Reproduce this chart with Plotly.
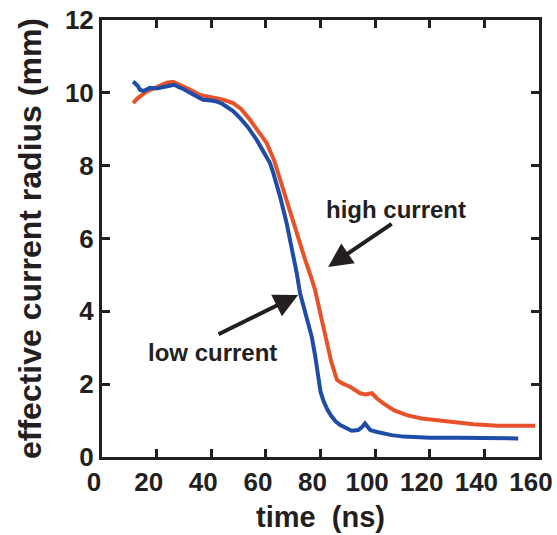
import plotly.graph_objects as go

# high current (red)
high_t = [11.4, 13, 16.4, 20, 23.7, 26, 28.6, 32, 35.9, 40, 44.4, 48, 51, 54.2, 57, 60.3, 63, 65.2,
          68.3, 71.3, 74.4, 76.5, 78.0, 79.9, 82.3, 84, 86.0, 88, 90.8, 92.5, 94.5, 96.5, 98.8,
          100.5, 103, 107, 111.6, 117, 123.8, 130, 136, 145, 152, 158.6]
high_r = [9.72, 9.85, 10.04, 10.15, 10.28, 10.3, 10.22, 10.1, 9.94, 9.88, 9.81, 9.72, 9.55, 9.26,
          8.97, 8.62, 8.15, 7.61, 6.88, 6.15, 5.41, 4.95, 4.59, 3.95, 3.21, 2.6, 2.12, 2.02, 1.93,
          1.85, 1.75, 1.72, 1.75, 1.62, 1.47, 1.28, 1.15, 1.06, 1.0, 0.95, 0.9, 0.86, 0.85, 0.86]

# low current (blue)
low_t = [11.4, 12.3, 13.2, 13.9, 15.2, 17.6, 20, 22.5, 24.9, 26.5, 28, 30, 32.2, 35, 37, 40, 42, 44,
         45.7, 48, 50.5, 53.5, 56.7, 59, 61.5, 62.7, 65.2, 67.6, 69.5, 71.3, 72.5, 74.4, 76.8, 78,
         79.2, 80, 81, 82.5, 84.1, 85.5, 87.2, 89, 91.4, 93.8, 95.2, 96.3, 97.3, 98.2, 100, 103,
         106, 110.3, 115, 120, 130, 140, 152.4]
low_r = [10.31, 10.25, 10.18, 10.08, 10.05, 10.14, 10.12, 10.16, 10.19, 10.22, 10.16, 10.1, 10.0,
         9.9, 9.81, 9.79, 9.76, 9.7, 9.62, 9.5, 9.31, 9.05, 8.7, 8.4, 8.07, 7.8, 7.15, 6.42, 5.78,
         5.05, 4.5, 3.95, 3.3, 2.8, 2.1, 1.8, 1.56, 1.3, 1.11, 0.98, 0.88, 0.82, 0.72, 0.74, 0.82,
         0.92, 0.8, 0.74, 0.7, 0.65, 0.6, 0.56, 0.54, 0.53, 0.53, 0.52, 0.51]

x_ticks = [0, 20, 40, 60, 80, 100, 120, 140, 160]
y_ticks = [0, 2, 4, 6, 8, 10, 12]

RED = "#E8522B"
BLUE = "#1E4CA6"
INK = "#231f20"
FONT = "Liberation Sans, Arial, sans-serif"

fig = go.Figure()
fig.add_trace(go.Scatter(x=high_t, y=high_r, mode="lines",
                         line=dict(color=RED, width=4), name="high current"))
fig.add_trace(go.Scatter(x=low_t, y=low_r, mode="lines",
                         line=dict(color=BLUE, width=4), name="low current"))

axis_common = dict(showgrid=False, zeroline=False, showline=True, linecolor=INK,
                   linewidth=3, mirror="ticks", ticks="inside", ticklen=8, tickwidth=2.5,
                   tickcolor=INK, automargin=False,
                   tickfont=dict(family=FONT, size=26, color=INK, weight="bold"))

fig.update_xaxes(range=[0, 160], tickvals=x_ticks, ticktext=[str(v) for v in x_ticks],
                 ticklabelshift=-8,
                 title=dict(text="time\u00a0\u00a0(ns)", standoff=11,
                            font=dict(family=FONT, size=29, color=INK, weight="bold")),
                 **axis_common)
fig.update_yaxes(range=[0, 12], tickvals=y_ticks, ticktext=[str(v) for v in y_ticks],
                 title=dict(text="effective current radius (mm)", standoff=14,
                            font=dict(family=FONT, size=32, color=INK, weight="bold")),
                 **axis_common)

ann_font = dict(family=FONT, size=24, color=INK, weight="bold")
fig.add_annotation(x=82.8, y=5.22, ax=106.6, ay=6.43, axref="x", ayref="y",
                   text="", showarrow=True, arrowhead=2, arrowsize=1.2, arrowwidth=4,
                   arrowcolor=INK)
fig.add_annotation(x=71.8, y=4.45, ax=42.1, ay=3.35, axref="x", ayref="y",
                   text="", showarrow=True, arrowhead=2, arrowsize=1.2, arrowwidth=4,
                   arrowcolor=INK)
fig.add_annotation(x=107.7, y=6.81, text="high current", showarrow=False, font=ann_font)
fig.add_annotation(x=40.3, y=2.88, text="low current", showarrow=False, font=ann_font)

fig.update_layout(width=557, height=535, margin=dict(l=102, r=18, t=20, b=78),
                  plot_bgcolor="white", paper_bgcolor="white", showlegend=False)

fig.write_html("out.html")
